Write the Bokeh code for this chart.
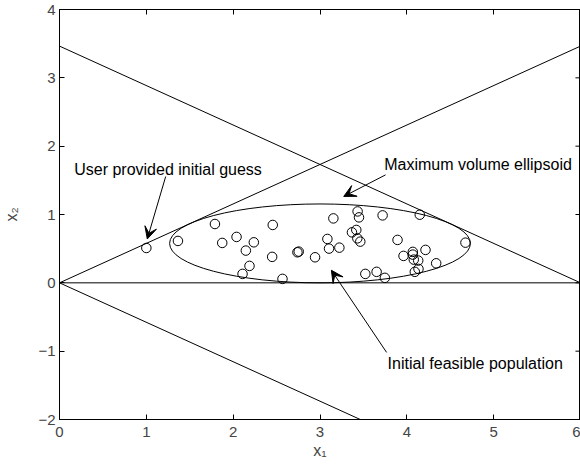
from bokeh.plotting import figure
from bokeh.models import (Range1d, LinearAxis, FixedTicker, Arrow, VeeHead,
                          Label, CustomJSTickFormatter)
from bokeh.embed import file_html
from bokeh.resources import INLINE

# ---- data ----
x_ticks = [0, 1, 2, 3, 4, 5, 6]
y_ticks = [-2, -1, 0, 1, 2, 3, 4]
y_tick_labels = {-2: "\u22122", -1: "\u22121", 0: "0", 1: "1", 2: "2", 3: "3", 4: "4"}

# constraint lines (end points)
line_x = [0, 6]
upper_y = [0, 3.4641]
desc_y = [3.4641, 0]
lower_y = [0, -3.4641]
base_y = [0, 0]

# maximum volume ellipsoid
ell_cx = [3.0]
ell_cy = [0.577]
ell_w = [3.464]
ell_h = [1.155]

# user provided initial guess
guess_x = [1.0]
guess_y = [0.51]

# initial feasible population
pop_x = [1.364, 1.790, 1.874, 2.039, 2.146, 2.238, 2.188, 2.108, 2.456, 2.449,
         2.568, 2.740, 2.755, 3.154, 3.433, 3.449, 3.721, 4.149, 3.368, 3.418,
         3.430, 3.464, 3.085, 3.104, 3.223, 2.943, 3.893, 3.522, 3.652, 3.747,
         3.962, 4.069, 4.069, 4.080, 4.131, 4.215, 4.338, 4.134, 4.092, 4.675]
pop_y = [0.613, 0.861, 0.584, 0.672, 0.472, 0.593, 0.248, 0.131, 0.847, 0.380,
         0.058, 0.447, 0.457, 0.943, 1.045, 0.958, 0.987, 0.997, 0.739, 0.774,
         0.651, 0.603, 0.642, 0.501, 0.515, 0.374, 0.628, 0.131, 0.161, 0.073,
         0.394, 0.453, 0.413, 0.340, 0.326, 0.482, 0.286, 0.204, 0.161, 0.588]

# annotations: text, text position, arrow start, arrow end
ann_text = ["User provided initial guess", "Maximum volume ellipsoid", "Initial feasible population"]
ann_tx = [0.169, 3.74, 3.778]
ann_ty = [1.656, 1.729, -1.182]
arr_x0 = [1.223, 3.755, 3.767]
arr_y0 = [1.556, 1.58, -1.018]
arr_x1 = [1.011, 3.273, 3.131]
arr_y1 = [0.642, 1.264, 0.184]

FONT = "Liberation Sans"
X_MAX = 6
TICK_IN = 0.058  # inward tick length of the right-hand box side, in x data units

p = figure(width=580, height=467, x_range=Range1d(0, X_MAX), y_range=Range1d(-2, 4),
           output_backend="svg", toolbar_location=None,
           min_border_left=59, min_border_right=0, min_border_top=9, min_border_bottom=48)
p.grid.visible = False
p.outline_line_color = "black"
p.outline_line_width = 1

for ax in p.xaxis:
    ax.ticker = FixedTicker(ticks=x_ticks)
    ax.major_tick_in = 5
    ax.major_tick_out = 0
    ax.minor_tick_line_color = None
    ax.major_label_text_font = FONT
    ax.major_label_text_font_size = "15px"
    ax.major_label_standoff = 7
    ax.axis_label = "x\u2081"
    ax.axis_label_text_font = FONT
    ax.axis_label_text_font_size = "16px"
    ax.axis_label_text_font_style = "normal"
    ax.axis_label_standoff = 2

for ax in p.yaxis:
    ax.ticker = FixedTicker(ticks=y_ticks)
    ax.major_label_overrides = y_tick_labels
    ax.major_tick_in = 5
    ax.major_tick_out = 0
    ax.minor_tick_line_color = None
    ax.major_label_text_font = FONT
    ax.major_label_text_font_size = "15px"
    ax.major_label_standoff = 4
    ax.axis_label = "x\u2082"
    ax.axis_label_text_font = FONT
    ax.axis_label_text_font_size = "16px"
    ax.axis_label_text_font_style = "normal"
    ax.axis_label_standoff = 15

blank = CustomJSTickFormatter(code="return ''")
top = LinearAxis(ticker=FixedTicker(ticks=x_ticks), formatter=blank, major_tick_in=5,
                 major_tick_out=0, minor_tick_line_color=None, major_label_standoff=0,
                 major_label_text_font_size="0px")
p.add_layout(top, "above")

# right-hand box ticks (pointing inward)
p.segment(x0=[X_MAX - TICK_IN] * len(y_ticks), y0=y_ticks,
          x1=[X_MAX] * len(y_ticks), y1=y_ticks, line_color="black", line_width=1)

for ys in (upper_y, desc_y, lower_y, base_y):
    p.line(line_x, ys, line_color="black", line_width=1)

p.ellipse(x=ell_cx, y=ell_cy, width=ell_w, height=ell_h, fill_color=None,
          line_color="black", line_width=1)

p.scatter(pop_x, pop_y, marker="circle", size=9.5, fill_color=None,
          line_color="black", line_width=1)
p.scatter(guess_x, guess_y, marker="circle", size=9.5, fill_color=None,
          line_color="black", line_width=1)

for t, tx, ty in zip(ann_text, ann_tx, ann_ty):
    p.add_layout(Label(x=tx, y=ty, text=t, text_font=FONT, text_font_size="16px",
                       text_baseline="alphabetic", text_align="left", text_color="black"))

for xs, ys, xe, ye in zip(arr_x0, arr_y0, arr_x1, arr_y1):
    p.add_layout(Arrow(end=VeeHead(size=12, fill_color="black", line_color="black"),
                       x_start=xs, y_start=ys, x_end=xe, y_end=ye,
                       line_color="black", line_width=1))

open("out.html", "w").write(file_html(p, INLINE))
